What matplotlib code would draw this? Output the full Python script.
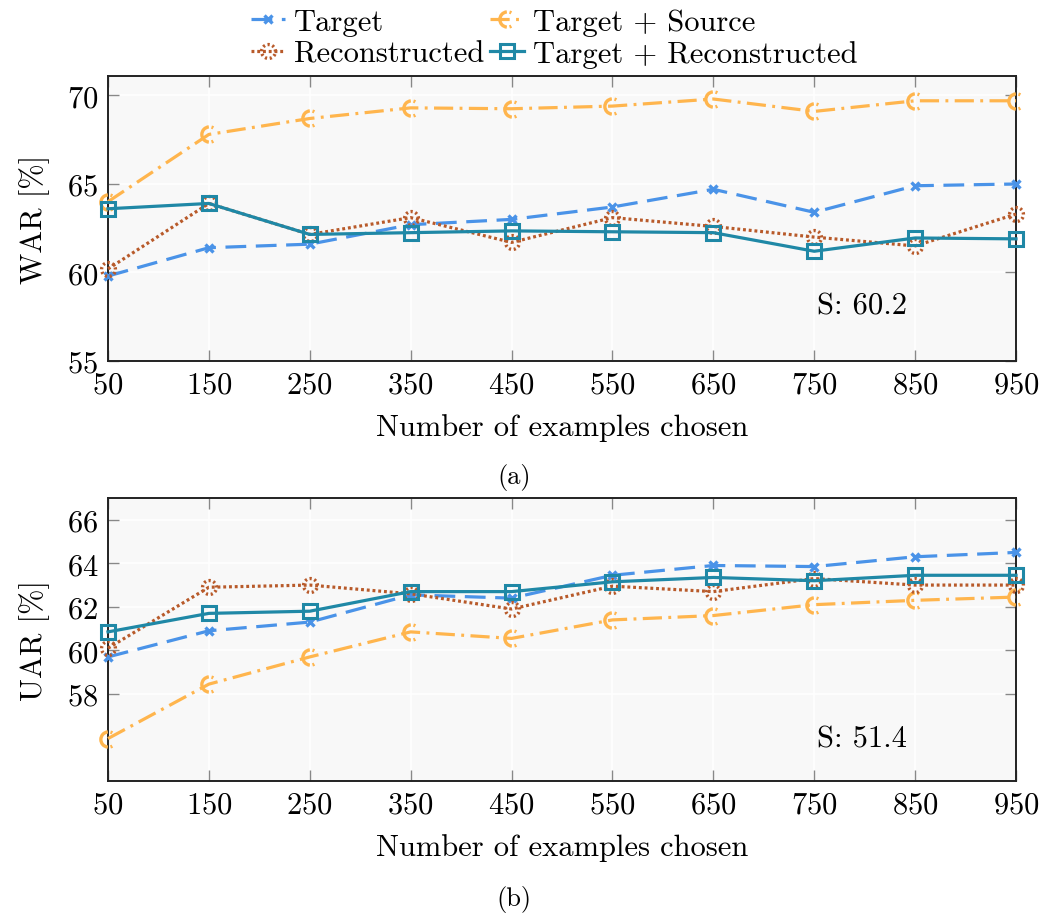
import numpy as np
import matplotlib
matplotlib.use("Agg")
import matplotlib.pyplot as plt
from matplotlib.path import Path

plt.rcParams['font.family'] = ['cmr10', 'DejaVu Serif']
plt.rcParams['mathtext.fontset'] = 'cm'
plt.rcParams['axes.formatter.use_mathtext'] = True

# ---------------- data ----------------
examples = [50, 150, 250, 350, 450, 550, 650, 750, 850, 950]

war_target = [59.8, 61.4, 61.6, 62.7, 63.0, 63.7, 64.7, 63.4, 64.9, 65.0]
war_target_source = [64.0, 67.8, 68.7, 69.3, 69.25, 69.4, 69.8, 69.1, 69.7, 69.7]
war_reconstructed = [60.2, 63.9, 62.15, 63.1, 61.7, 63.1, 62.6, 62.0, 61.5, 63.3]
war_target_recon = [63.6, 63.9, 62.15, 62.25, 62.35, 62.3, 62.25, 61.2, 61.95, 61.9]
war_source_only = 60.2

uar_target = [59.7, 60.9, 61.3, 62.55, 62.4, 63.45, 63.9, 63.85, 64.3, 64.5]
uar_target_source = [55.95, 58.45, 59.7, 60.85, 60.55, 61.4, 61.6, 62.1, 62.3, 62.45]
uar_reconstructed = [60.1, 62.9, 63.0, 62.6, 61.9, 62.95, 62.7, 63.3, 63.0, 63.0]
uar_target_recon = [60.85, 61.7, 61.8, 62.7, 62.7, 63.15, 63.35, 63.2, 63.45, 63.45]
uar_source_only = 51.4

labels = ["Target", "Target + Source", "Reconstructed", "Target + Reconstructed"]
war_yticks = [55, 60, 65, 70]
uar_yticks = [58, 60, 62, 64, 66]

# ---------------- styles ----------------
c_blue = '#4a93e8'
c_orange = '#ffb54d'
c_brown = '#b85a2a'
c_teal = '#1f88a6'


def arcs(spans):
    paths = [Path.arc(a, b) for a, b in spans]
    return Path.make_compound_path(*paths)

# dash-dot circle marker (orange) and dotted circle marker (brown)
m_orange = arcs([(95, 265), (285, 300), (60, 75)])
m_brown = arcs([(a, a + 18) for a in range(0, 360, 40)])

styles = [
    dict(color=c_blue, ls=(0, (6.5, 3.0)), marker='x', ms=6, mew=2.4),
    dict(color=c_orange, ls=(0, (6.0, 2.0, 0.9, 2.0)), marker=m_orange, ms=11, mew=2.4),
    dict(color=c_brown, ls=(0, (0.9, 0.9)), marker=m_brown, ms=10, mew=2.4),
    dict(color=c_teal, ls='-', marker='s', ms=9.5, mew=2.2, mfc='none'),
]

fig = plt.figure(figsize=(10.46, 9.2), dpi=100)
ax1 = fig.add_axes([108 / 1046, 1 - 362 / 920, 908 / 1046, 285 / 920])
ax2 = fig.add_axes([108 / 1046, 1 - 782 / 920, 908 / 1046, 283 / 920])

FS = 22


def style_axes(ax, yticks, ylim, ylabel):
    ax.set_facecolor('#f8f8f8')
    ax.set_xlim(examples[0], examples[-1])
    ax.set_ylim(*ylim)
    ax.set_xticks(examples)
    ax.set_yticks(yticks)
    ax.grid(True, color='white', lw=1.2)
    ax.set_axisbelow(True)
    ax.tick_params(direction='in', length=8, width=1.0, color='#888888',
                   top=True, right=True, labelsize=FS, pad=7)
    for s in ax.spines.values():
        s.set_color('#222222')
        s.set_linewidth(1.4)
    ax.set_xlabel("Number of examples chosen", fontsize=FS, labelpad=11)
    ax.set_ylabel(ylabel, fontsize=FS, labelpad=12)


handles = []
series_war = [war_target, war_target_source, war_reconstructed, war_target_recon]
series_uar = [uar_target, uar_target_source, uar_reconstructed, uar_target_recon]
for lab, st, yw, yu in zip(labels, styles, series_war, series_uar):
    kw = dict(st)
    color = kw.pop('color')
    mfc = kw.pop('mfc', 'none')
    h, = ax1.plot(examples, yw, color=color, lw=2.3, mec=color, mfc=mfc,
                  label=lab, clip_on=False, zorder=3, **kw)
    ax2.plot(examples, yu, color=color, lw=2.3, mec=color, mfc=mfc,
             clip_on=False, zorder=3, **kw)
    handles.append(h)

style_axes(ax1, war_yticks, (55, 71.1), "WAR [%]")
style_axes(ax2, uar_yticks, (54, 67), "UAR [%]")

ax1.text(753, 58.1, "S: %.1f" % war_source_only, fontsize=FS, va='center', ha='left')
ax2.text(753, 55.94, "S: %.1f" % uar_source_only, fontsize=FS, va='center', ha='left')

order = [0, 2, 1, 3]
fig.legend([handles[i] for i in order], [labels[i] for i in order],
           loc='upper center', bbox_to_anchor=(0.53, 1.01), ncol=2, frameon=False,
           fontsize=FS, handlelength=1.1, handletextpad=0.3, columnspacing=0.2,
           labelspacing=0.15, borderpad=0.1)

fig.text(514 / 1046, 1 - 478 / 920, "(a)", fontsize=19, ha='center', va='center')
fig.text(514 / 1046, 1 - 900 / 920, "(b)", fontsize=19, ha='center', va='center')

fig.savefig("out.png", dpi=100, facecolor='white')
